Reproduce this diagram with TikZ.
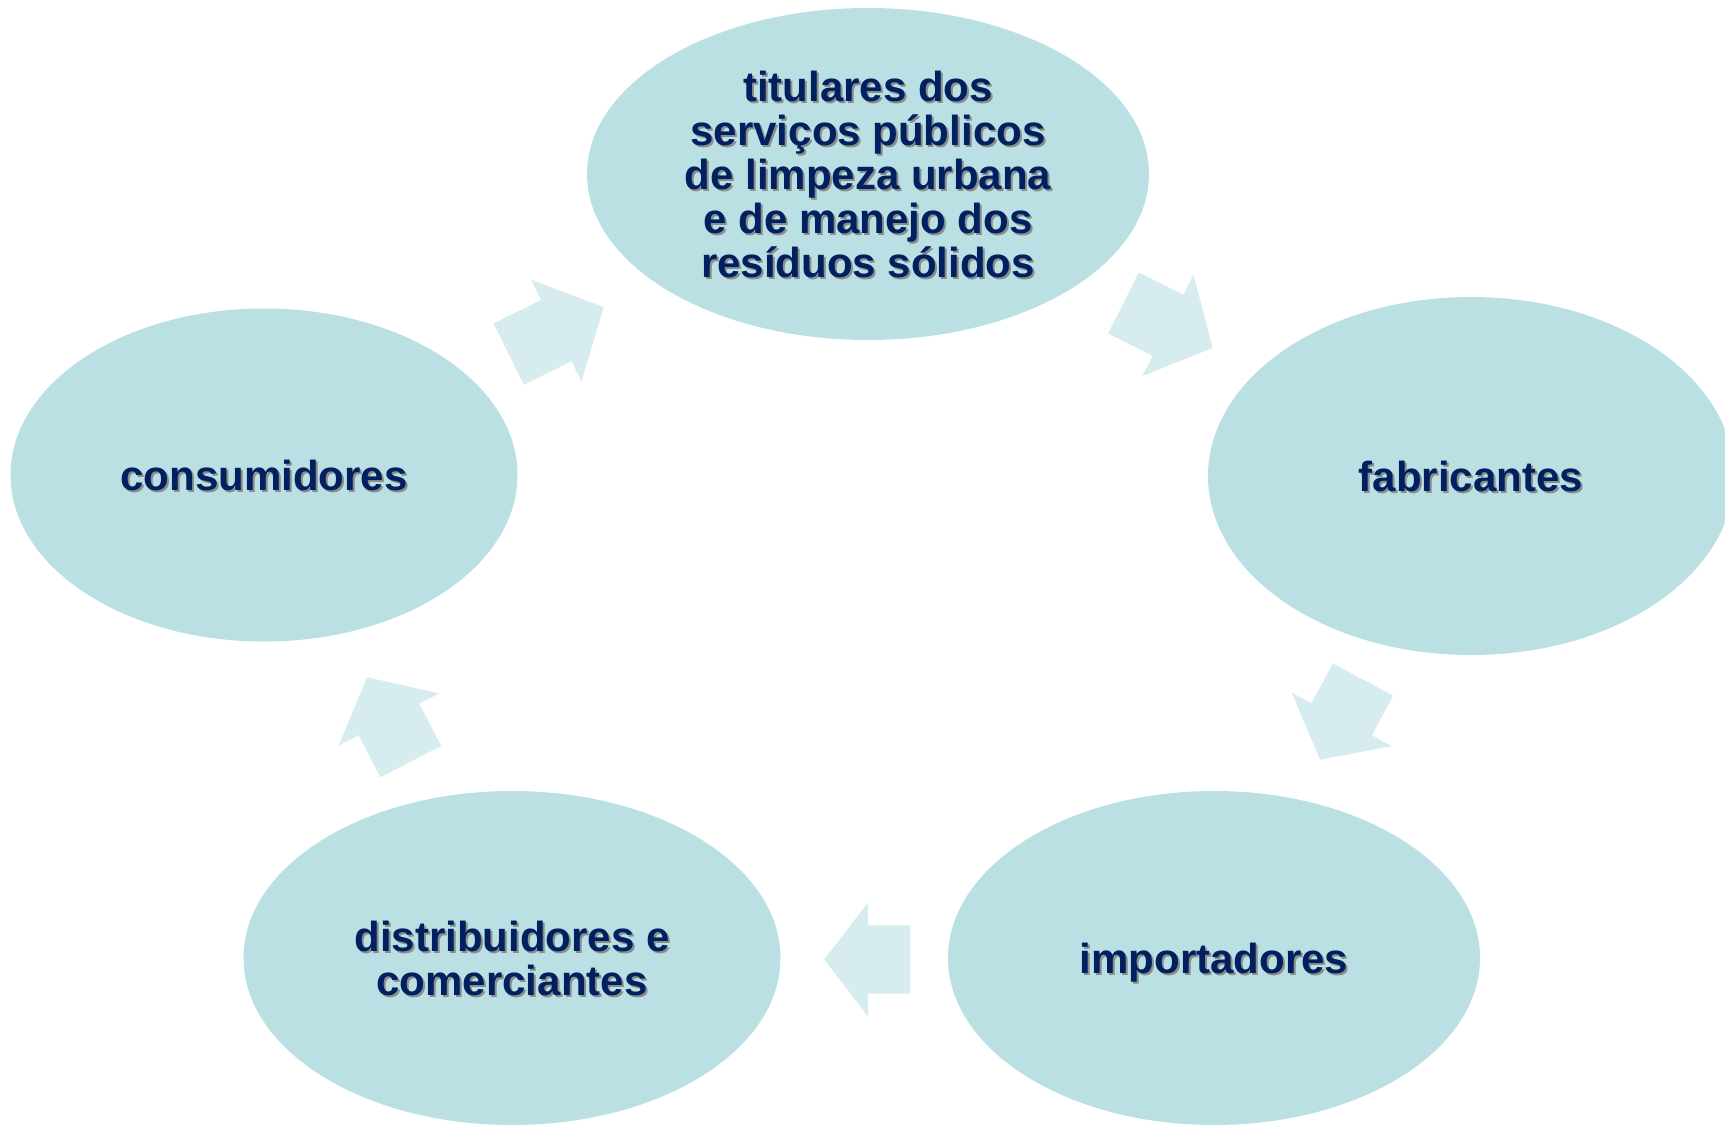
\documentclass[tikz,border=0pt]{standalone}
\usepackage{fontspec}
\setmainfont{Liberation Sans}
\usetikzlibrary{shapes.geometric,shapes.arrows}
\definecolor{bubble}{RGB}{187,224,227}
\definecolor{flow}{RGB}{215,236,238}
\definecolor{ink}{RGB}{0,32,96}
\tikzset{
     roleNode/.style =
        { ellipse
        , fill=bubble
        , inner sep=0pt
        }
   , roleText/.style =
        { align=center
        , text=ink
        , text depth=0pt
        , font=\bfseries\fontsize{42}{44}\selectfont
        }
   , roleShadow/.style =
        { roleText
        , text=black!45
        }
   , flowArrow/.style =
        { single arrow
        , fill=flow
        , inner xsep=0pt
        , inner ysep=34pt
        , single arrow head extend=22.5pt
        , minimum width=1pt
        , anchor=tip
        }
}
% one actor: name, centre, width, height, text
\newcommand{\bubble}[5]{%
  \node[roleNode, minimum width=#3pt, minimum height=#4pt] (#1) at (#2) {};
  \node[roleShadow] (#1-s) at ([xshift=2pt,yshift=-2pt]#1.center) {#5};
  \node[roleText] (#1-t) at (#1.center) {#5};
}

\begin{document}
\begin{tikzpicture}
            [ x=1pt
            , y=-1pt
            ]
            \useasboundingbox (0,0) rectangle (1725,1125);

            \bubble{titulares}{868,174}{562}{332}{titulares dos\\serviços públicos\\de limpeza urbana\\e de manejo dos\\resíduos sólidos}
            \bubble{fabricantes}{1471,476}{526}{358}{fabricantes}
            \bubble{importadores}{1214,958}{532}{334}{importadores}
            \bubble{distribuidores}{512,958}{537}{334}{distribuidores e\\comerciantes}
            \bubble{consumidores}{264,475}{507}{333}{consumidores}

            % block arrows between the actors, placed by their tips
            \node[flowArrow, rotate=26.3, minimum height=106pt, single arrow tip angle=94] (toTitulares) at (604,307) {};
            \node[flowArrow, rotate=-26.7, minimum height=100pt, single arrow tip angle=97] (toFabricantes) at (1213,348) {};
            \node[flowArrow, rotate=-118.1, minimum height=91pt, single arrow tip angle=102] (toImportadores) at (1320,760) {};
            \node[flowArrow, rotate=180, minimum height=86pt, single arrow tip angle=105] (toDistribuidores) at (824,959.5) {};
            \node[flowArrow, rotate=117.4, minimum height=95pt, single arrow tip angle=100] (toConsumidores) at (367,677) {};
        \end{tikzpicture}
\end{document}
